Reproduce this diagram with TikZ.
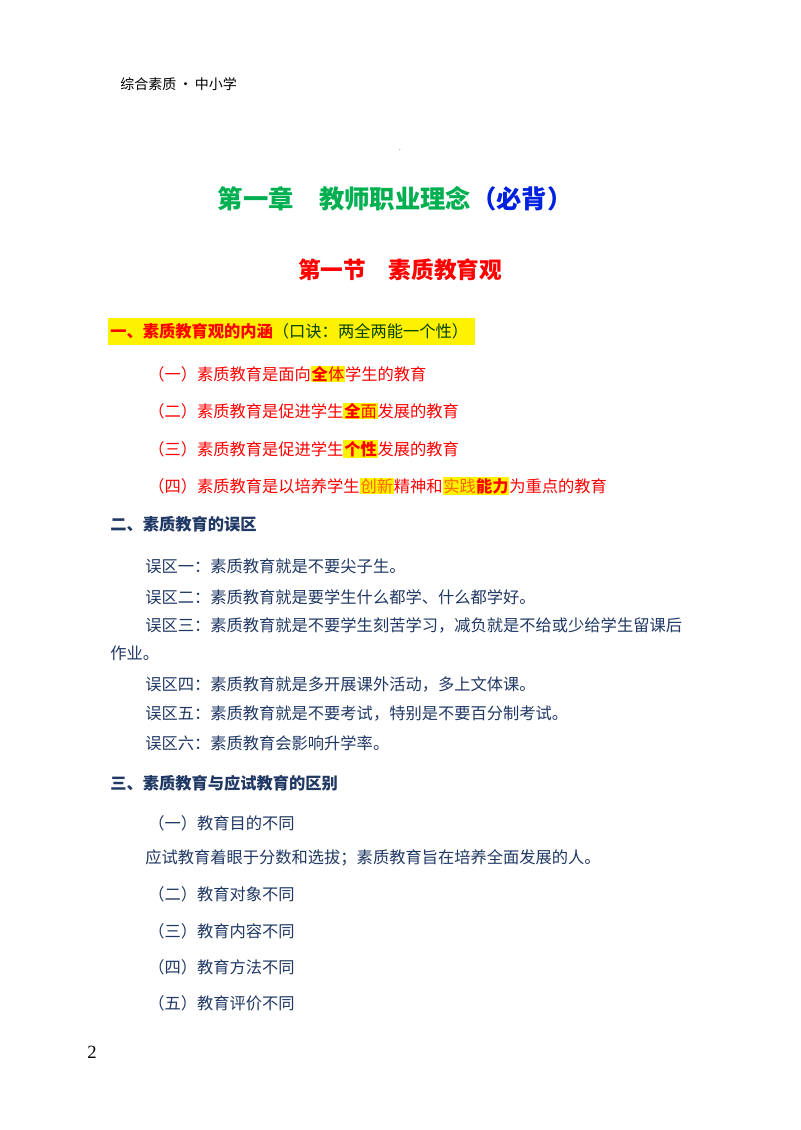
\documentclass[tikz,border=0pt]{standalone}
\usepackage{fontspec}
\setmainfont{Liberation Serif}
\newfontfamily\cjk{Noto Sans CJK SC}
\definecolor{bodyblue}{HTML}{203864}
\definecolor{ttlgreen}{HTML}{00B050}
\definecolor{ttlblue}{HTML}{0020E0}
\definecolor{hdred}{HTML}{FF0000}
\newcommand\hly[1]{{\setlength\fboxsep{0.6pt}\colorbox{yellow}{#1}}}
\begin{document}
\begin{tikzpicture}[x=0.75pt,y=-0.75pt,
  txt/.style={anchor=west,inner sep=0pt,font=\cjk\fontsize{12.2}{14}\selectfont,text=bodyblue},
  red/.style={txt,text=hdred},
  hd/.style={txt,font=\cjk\bfseries\fontsize{12.2}{14}\selectfont}]
\useasboundingbox[fill=white] (0,0) rectangle (800,1130);
\node[txt,text=black,font=\cjk\fontsize{10.5}{12}\selectfont] (hdr) at (120,84) {综合素质\,•\,中小学};
\node[inner sep=0pt,font=\tiny] (dot) at (400,150) {.};
\node[inner sep=0pt,font=\cjk\bfseries\fontsize{19}{22}\selectfont] (t1) at (395,199) {\textcolor{ttlgreen}{第一章\hspace{1em}教师职业理念}\textcolor{ttlblue}{（必背）}};
\node[inner sep=0pt,font=\cjk\bfseries\fontsize{17}{20}\selectfont,text=hdred] (t2) at (400,270) {第一节\hspace{1em}素质教育观};
\fill[yellow] (108,318) rectangle (475,345);
\node[hd,text=hdred] (h1) at (110,331) {一、素质教育观的内涵\textcolor{black!75!green}{\mdseries（口诀：两全两能一个性）}};
\node[red] (a1) at (148,374) {（一）素质教育是面向\hly{\textbf{全}体}学生的教育};
\node[red] (a2) at (148,411) {（二）素质教育是促进学生\hly{\textbf{全}面}发展的教育};
\node[red] (a3) at (148,449) {（三）素质教育是促进学生\hly{\textbf{个性}}发展的教育};
\node[red] (a4) at (148,486) {（四）素质教育是以培养学生\hly{\textcolor{orange!80!red}{创新}}精神和\hly{\textcolor{orange!80!red}{实践}\textbf{能力}}为重点的教育};
\node[hd] (h2) at (110,524) {二、素质教育的误区};
\node[txt] (b1) at (145,566) {误区一：素质教育就是不要尖子生。};
\node[txt] (b2) at (145,597) {误区二：素质教育就是要学生什么都学、什么都学好。};
\node[txt] (b3) at (145,625) {误区三：素质教育就是不要学生刻苦学习，减负就是不给或少给学生留课后};
\node[txt] (b3b) at (110,653) {作业。};
\node[txt] (b4) at (145,684) {误区四：素质教育就是多开展课外活动，多上文体课。};
\node[txt] (b5) at (145,713) {误区五：素质教育就是不要考试，特别是不要百分制考试。};
\node[txt] (b6) at (145,743) {误区六：素质教育会影响升学率。};
\node[hd] (h3) at (110,783) {三、素质教育与应试教育的区别};
\node[txt] (c1) at (148,823) {（一）教育目的不同};
\node[txt] (c1b) at (145,858) {应试教育着眼于分数和选拔；素质教育旨在培养全面发展的人。};
\node[txt] (c2) at (148,894) {（二）教育对象不同};
\node[txt] (c3) at (148,931) {（三）教育内容不同};
\node[txt] (c4) at (148,967) {（四）教育方法不同};
\node[txt] (c5) at (148,1003) {（五）教育评价不同};
\node[inner sep=0pt,font=\fontsize{14}{16}\selectfont] (pg) at (92,1052) {2};
\end{tikzpicture}
\end{document}
